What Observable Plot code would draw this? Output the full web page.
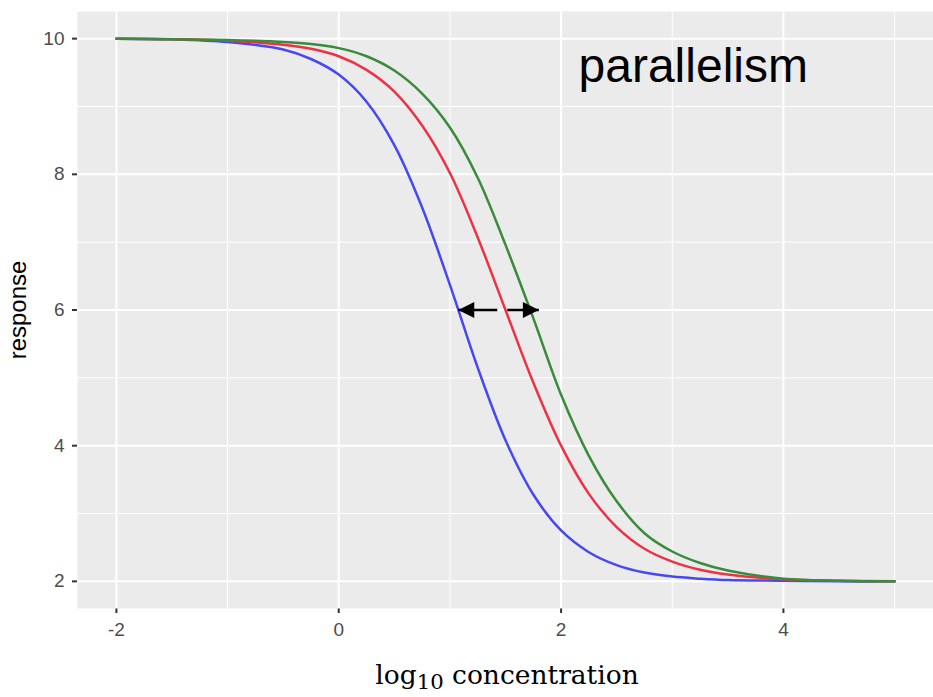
<!DOCTYPE html>
<html>
<head>
<meta charset="utf-8">
<script src="https://cdn.jsdelivr.net/npm/d3@7"></script>
<script src="https://cdn.jsdelivr.net/npm/@observablehq/plot@0.6"></script>
<style>
  body { margin: 0; background: white; }
  #wrap { position: relative; width: 933px; height: 697px; }
  #xlab { position: absolute; left: 507px; top: 661px; transform: translateX(-50%);
          font-family: "DejaVu Serif", serif; font-size: 26.5px; line-height: 28px;
          white-space: nowrap; color: #000; }
  #xlab sub { font-size: 0.8em; vertical-align: -0.22em; line-height: 0; }
  g[aria-label="x-axis tick"] path, g[aria-label="y-axis tick"] path, .tick line { stroke-width: 2px; stroke: #333; }
</style>
</head>
<body>
<div id="wrap">
  <div id="chart"></div>
  <div id="xlab">log<sub>10</sub> concentration</div>
</div>
<script>
// ---- data ----
const concentration = [-2, -1.5, -1, -0.5, -0.25, 0, 0.25, 0.5, 0.75, 1, 1.25, 1.5, 1.75, 2, 2.25, 2.5, 2.75, 3, 3.25, 3.5, 4, 4.5, 5];
const blueResponse  = [10.00, 9.99, 9.95, 9.84, 9.70, 9.47, 9.07, 8.43, 7.51, 6.37, 5.15, 4.08, 3.28, 2.75, 2.43, 2.24, 2.13, 2.07, 2.04, 2.02, 2.01, 2.00, 2.00];
const redResponse   = [10.00, 9.99, 9.97, 9.91, 9.85, 9.74, 9.54, 9.22, 8.72, 8.02, 7.07, 6.00, 4.93, 4.00, 3.29, 2.80, 2.48, 2.29, 2.17, 2.10, 2.03, 2.01, 2.00];
const greenResponse = [10.00, 9.99, 9.98, 9.95, 9.92, 9.86, 9.74, 9.53, 9.19, 8.69, 7.95, 6.96, 5.88, 4.75, 3.85, 3.18, 2.71, 2.44, 2.27, 2.16, 2.04, 2.01, 2.00];
const seriesNames  = ["curve A", "curve B", "curve C"];
const seriesColors = ["#4848F2", "#EC3346", "#3A8B3A"];

const xTicks = [-2, 0, 2, 4];
const xMinor = [-1, 1, 3, 5];
const yTicks = [2, 4, 6, 8, 10];
const yMinor = [3, 5, 7, 9];

// arrows at response 6: from near the red curve out to blue (left) and green (right)
const arrowLevel = 6;
const arrowFrom = [1.426, 1.516];
const arrowTo   = [1.075, 1.800];

const titleText = "parallelism";
const yTitle = "response";

// ---- build tables ----
const seriesValues = [blueResponse, redResponse, greenResponse];
const rows = [];
seriesValues.forEach((vals, s) => {
  vals.forEach((v, i) => rows.push({series: seriesNames[s], x: concentration[i], y: v}));
});
const arrows = arrowFrom.map((f, i) => ({from: f, to: arrowTo[i], y: arrowLevel}));

const triangleShape = {
  draw(context, l, r) {
    context.moveTo(0, -l);
    context.lineTo(-r, 0);
    context.lineTo(r, 0);
    context.closePath();
  }
};

let headMark;
if (typeof Plot.spike === "function") {
  headMark = Plot.vector(arrows, {
    x: "to", y: "y", length: 16, r: 8, anchor: "end",
    rotate: d => d.to < d.from ? -90 : 90,
    shape: triangleShape, fill: "black", stroke: "none"
  });
} else {
  headMark = Plot.text(arrows, {
    x: "to", y: "y", text: d => d.to < d.from ? "\u25C0" : "\u25B6",
    textAnchor: d => d.to < d.from ? "start" : "end", fontSize: 20, fill: "black"
  });
}

const chart = Plot.plot({
  width: 933,
  height: 645,
  marginLeft: 77,
  marginRight: 0,
  marginTop: 11,
  marginBottom: 37,
  style: {fontFamily: "'Liberation Sans', Arial, sans-serif", fontSize: "19px", color: "#4D4D4D", background: "white", overflow: "visible"},
  x: {domain: [-2.35, 5.35], ticks: xTicks, tickFormat: d => String(d), tickSize: 5, tickPadding: 9, label: null},
  y: {domain: [1.6, 10.4], ticks: yTicks, tickFormat: d => String(d), tickSize: 5, tickPadding: 8, label: null},
  color: {domain: seriesNames, range: seriesColors},
  marks: [
    Plot.frame({fill: "#EBEBEB", stroke: "none"}),
    Plot.ruleX(xMinor, {stroke: "white", strokeWidth: 1}),
    Plot.ruleY(yMinor, {stroke: "white", strokeWidth: 1}),
    Plot.ruleX(xTicks, {stroke: "white", strokeWidth: 2}),
    Plot.ruleY(yTicks, {stroke: "white", strokeWidth: 2}),
    Plot.line(rows, {x: "x", y: "y", z: "series", stroke: "series", strokeWidth: 2.5, curve: "catmull-rom"}),
    Plot.link(arrows, {x1: "from", x2: "to", y1: "y", y2: "y", stroke: "black", strokeWidth: 2.5}),
    headMark,
    Plot.text([titleText], {x: () => 2.157, y: () => 9.59, text: d => d, textAnchor: "start", fontSize: 48, fill: "black", fontFamily: "'Liberation Sans', Arial, sans-serif"}),
    Plot.text([yTitle], {frameAnchor: "left", dx: -59, rotate: -90, textAnchor: "middle", text: d => d, fontSize: 24, fill: "black"})
  ]
});
document.getElementById("chart").appendChild(chart);
</script>
</body>
</html>
